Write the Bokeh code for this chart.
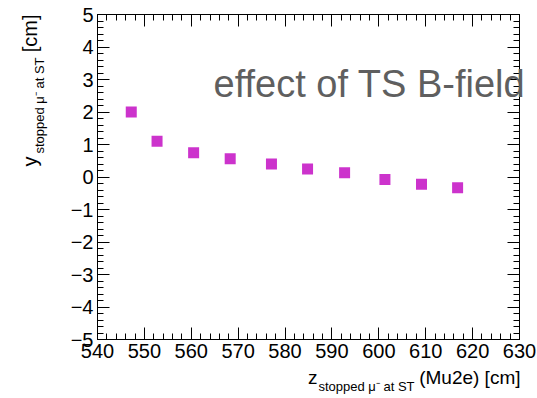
import math
from bokeh.plotting import figure
from bokeh.models import (LinearAxis, SingleIntervalTicker, CustomJSTickFormatter,
                          CustomLabelingPolicy, Label, ColumnDataSource, Range1d)
from bokeh.embed import file_html
from bokeh.resources import INLINE

# ---- data ----
z_stop = [547.2, 552.7, 560.5, 568.3, 577.1, 584.8, 592.7, 601.3, 609.1, 616.8]
y_stop = [2.00, 1.10, 0.75, 0.56, 0.40, 0.25, 0.13, -0.08, -0.22, -0.33]
x_lim = (540, 630)
y_lim = (-5, 5)
annotation_text = "effect of TS B-field"
x_title_main = "z"
x_title_sub = "stopped \u03bc\u207b at ST"
x_title_tail = "(Mu2e) [cm]"
y_title_main = "y"
y_title_sub = "stopped \u03bc\u207b at ST"
y_title_tail = "[cm]"

# ---- layout (pixels) ----
W, H = 537, 398
FL, FR, FT, FB = 97, 519, 14, 339  # axis box edges in canvas px

# extend ranges so the whole canvas is the frame and the axis box sits at FL..FR, FT..FB
xpp = (x_lim[1] - x_lim[0]) / (FR - FL)
ypp = (y_lim[1] - y_lim[0]) / (FB - FT)
xr = Range1d(x_lim[0] - FL * xpp, x_lim[1] + (W - FR) * xpp)
yr = Range1d(y_lim[0] - (H - FB) * ypp, y_lim[1] + FT * ypp)

p = figure(width=W, height=H, x_range=xr, y_range=yr,
           x_axis_type=None, y_axis_type=None,
           output_backend="svg", toolbar_location=None,
           min_border=0, min_border_left=0, min_border_right=0,
           min_border_top=0, min_border_bottom=0,
           background_fill_color="white", border_fill_color="white")
p.outline_line_color = None
p.grid.visible = False

FONT = "Liberation Sans"
fmt = CustomJSTickFormatter(code="""
const r = Math.round(tick);
return (r < 0 ? '\\u2212' : '') + Math.abs(r).toString();
""")
no_labels = CustomLabelingPolicy(code="for (const i of indices) indices.unset(i)")

def make_axis(interval, bounds, loc, show_labels):
    ax = LinearAxis(ticker=SingleIntervalTicker(interval=interval, num_minor_ticks=5),
                    bounds=bounds, fixed_location=loc)
    ax.axis_line_color = "black"
    ax.major_tick_line_color = "black"
    ax.minor_tick_line_color = "black"
    ax.major_tick_in = 12
    ax.major_tick_out = 0
    ax.minor_tick_in = 6
    ax.minor_tick_out = 0
    ax.major_label_text_font = FONT
    ax.major_label_text_color = "black"
    ax.major_label_text_font_size = "20px"
    ax.major_label_standoff = 4
    ax.formatter = fmt
    if not show_labels:
        ax.major_label_policy = no_labels
    return ax

p.add_layout(make_axis(10, x_lim, y_lim[0], True), "below")
p.add_layout(make_axis(10, x_lim, y_lim[1], False), "above")
p.add_layout(make_axis(1, y_lim, x_lim[0], True), "left")
p.add_layout(make_axis(1, y_lim, x_lim[1], False), "right")

src = ColumnDataSource(dict(x=z_stop, y=y_stop))
p.scatter("x", "y", source=src, marker="square", size=11,
          fill_color="#cc33cc", line_color="#cc33cc", line_width=0)

BASE_FIX = 0.35  # empirical baseline correction (fraction of font size)

def lab(text, px, py, size, align="left", angle=0.0, color="black"):
    if angle == 0.0:
        py = py - BASE_FIX * size
    else:
        px = px - BASE_FIX * size
    p.add_layout(Label(x=px, y=H - py, x_units="screen", y_units="screen",
                       text=text, text_font=FONT, text_font_size=f"{size}px",
                       text_color=color, text_align=align,
                       text_baseline="alphabetic", angle=angle))

# annotation
lab(annotation_text, 213, 97, 38, color="#5f5f5f")

# x title (right aligned at axis box right)
xb = 384
lab(x_title_tail, 520, xb, 19, align="right")
lab(x_title_sub, 414, xb + 7, 13, align="right")
lab(x_title_main, 317, xb, 19, align="right")

# y title (rotated, ends at axis box top)
yb = 36
lab(y_title_tail, yb, 14, 20, align="right", angle=math.pi / 2)
lab(y_title_sub, yb + 8, 57, 13, align="right", angle=math.pi / 2)
lab(y_title_main, yb, 156, 20, align="right", angle=math.pi / 2)

open("out.html", "w").write(file_html(p, INLINE))
